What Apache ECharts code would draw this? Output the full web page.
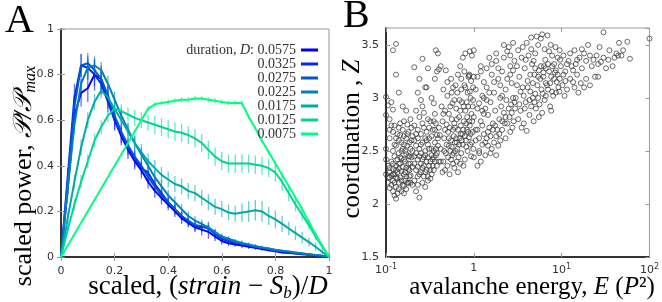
<!DOCTYPE html>
<html>
<head>
<meta charset="utf-8">
<script src="https://cdn.jsdelivr.net/npm/echarts@6/dist/echarts.min.js"></script>
<style>
  html, body { margin: 0; padding: 0; background: #fff; }
  #chart { width: 662px; height: 302px; }
</style>
</head>
<body>
<div id="chart"></div>
<script>
// panel A: scaled power profiles
const durations = ['0.0575', '0.0325', '0.0275', '0.0225', '0.0175', '0.0125', '0.0075']
const colors = ['#0000ff', '#002aea', '#0055d5', '#0080bf', '#00aaaa', '#00d495', '#00ff80']
const xs = [0, 0.025, 0.05, 0.075, 0.1, 0.125, 0.15, 0.175, 0.2, 0.225, 0.25, 0.275, 0.3, 0.325, 0.35, 0.375, 0.4, 0.425, 0.45, 0.475, 0.5, 0.525, 0.55, 0.575, 0.6, 0.625, 0.65, 0.675, 0.7, 0.725, 0.75, 0.775, 0.8, 0.825, 0.85, 0.875, 0.9, 0.925, 0.95, 0.975, 1]

const p0575 = [0, 0.30, 0.62, 0.72, 0.74, 0.80, 0.78, 0.70, 0.60, 0.53, 0.47, 0.42, 0.38, 0.33, 0.29, 0.26, 0.23, 0.20, 0.17, 0.15, 0.13, 0.12, 0.11, 0.09, 0.07, 0.06, 0.055, 0.05, 0.045, 0.04, 0.035, 0.03, 0.025, 0.02, 0.018, 0.015, 0.012, 0.01, 0.007, 0.004, 0]
const p0325 = [0, 0.35, 0.70, 0.84, 0.83, 0.80, 0.76, 0.68, 0.60, 0.54, 0.48, 0.43, 0.39, 0.37, 0.32, 0.28, 0.24, 0.21, 0.18, 0.155, 0.135, 0.13, 0.13, 0.10, 0.08, 0.07, 0.06, 0.055, 0.05, 0.045, 0.04, 0.035, 0.03, 0.025, 0.02, 0.017, 0.014, 0.011, 0.008, 0.004, 0]
const p0275 = [0, 0.33, 0.66, 0.84, 0.85, 0.82, 0.78, 0.71, 0.62, 0.55, 0.49, 0.44, 0.40, 0.35, 0.31, 0.27, 0.24, 0.21, 0.18, 0.16, 0.14, 0.135, 0.125, 0.10, 0.085, 0.075, 0.065, 0.058, 0.052, 0.046, 0.04, 0.035, 0.03, 0.026, 0.022, 0.018, 0.014, 0.011, 0.008, 0.004, 0]
const p0225 = [0, 0.30, 0.58, 0.76, 0.83, 0.84, 0.82, 0.76, 0.69, 0.62, 0.56, 0.50, 0.45, 0.40, 0.35, 0.31, 0.27, 0.24, 0.21, 0.18, 0.16, 0.145, 0.13, 0.11, 0.09, 0.08, 0.07, 0.062, 0.055, 0.048, 0.042, 0.037, 0.032, 0.028, 0.024, 0.02, 0.016, 0.012, 0.009, 0.005, 0]
const p0175 = [0, 0.17, 0.33, 0.48, 0.60, 0.68, 0.73, 0.70, 0.65, 0.60, 0.55, 0.50, 0.46, 0.42, 0.39, 0.36, 0.34, 0.32, 0.31, 0.29, 0.28, 0.26, 0.24, 0.22, 0.21, 0.195, 0.19, 0.195, 0.20, 0.205, 0.20, 0.18, 0.165, 0.145, 0.125, 0.105, 0.085, 0.065, 0.045, 0.022, 0]
const p0125 = [0, 0.12, 0.23, 0.33, 0.42, 0.51, 0.57, 0.62, 0.65, 0.64, 0.625, 0.61, 0.60, 0.59, 0.58, 0.57, 0.56, 0.55, 0.545, 0.535, 0.52, 0.50, 0.47, 0.44, 0.42, 0.41, 0.41, 0.41, 0.41, 0.405, 0.40, 0.39, 0.37, 0.33, 0.28, 0.23, 0.185, 0.14, 0.09, 0.045, 0]
const p0075 = [0, 0.05, 0.10, 0.15, 0.20, 0.25, 0.30, 0.35, 0.40, 0.45, 0.50, 0.55, 0.60, 0.65, 0.67, 0.675, 0.68, 0.685, 0.69, 0.69, 0.695, 0.695, 0.69, 0.685, 0.68, 0.675, 0.675, 0.675, 0.615, 0.565, 0.51, 0.46, 0.41, 0.36, 0.31, 0.26, 0.21, 0.155, 0.10, 0.05, 0]

const e0575 = [0, 0.03, 0.05, 0.06, 0.06, 0.07, 0.06, 0.05, 0.045, 0.04, 0.04, 0.035, 0.035, 0.03, 0.03, 0.03, 0.025, 0.025, 0.025, 0.02, 0.02, 0.025, 0.03, 0.02, 0.015, 0.012, 0.01, 0.01, 0.01, 0.008, 0.008, 0.006, 0.006, 0.005, 0.005, 0.004, 0.004, 0.003, 0.003, 0.002, 0]
const e0325 = [0, 0.04, 0.06, 0.05, 0.05, 0.05, 0.05, 0.045, 0.04, 0.04, 0.035, 0.035, 0.03, 0.03, 0.03, 0.025, 0.025, 0.025, 0.02, 0.02, 0.02, 0.02, 0.025, 0.02, 0.015, 0.012, 0.01, 0.01, 0.009, 0.008, 0.007, 0.006, 0.005, 0.005, 0.004, 0.004, 0.003, 0.003, 0.002, 0.002, 0]
const e0275 = [0, 0.04, 0.05, 0.05, 0.045, 0.045, 0.045, 0.04, 0.04, 0.035, 0.035, 0.03, 0.03, 0.03, 0.028, 0.025, 0.025, 0.022, 0.02, 0.02, 0.02, 0.018, 0.018, 0.015, 0.013, 0.012, 0.01, 0.01, 0.009, 0.008, 0.007, 0.006, 0.005, 0.005, 0.004, 0.004, 0.003, 0.003, 0.002, 0.002, 0]
const e0225 = [0, 0.03, 0.04, 0.04, 0.04, 0.04, 0.035, 0.035, 0.035, 0.035, 0.03, 0.03, 0.03, 0.03, 0.03, 0.028, 0.025, 0.025, 0.022, 0.02, 0.02, 0.018, 0.016, 0.015, 0.013, 0.012, 0.01, 0.01, 0.009, 0.008, 0.007, 0.006, 0.005, 0.005, 0.004, 0.004, 0.003, 0.003, 0.002, 0.002, 0]
const e0175 = [0, 0.025, 0.03, 0.035, 0.035, 0.035, 0.035, 0.035, 0.035, 0.035, 0.035, 0.035, 0.035, 0.035, 0.035, 0.035, 0.035, 0.035, 0.035, 0.035, 0.035, 0.035, 0.035, 0.035, 0.035, 0.035, 0.035, 0.04, 0.045, 0.045, 0.045, 0.04, 0.04, 0.035, 0.03, 0.03, 0.025, 0.02, 0.018, 0.012, 0]
const e0125 = [0, 0.02, 0.025, 0.03, 0.03, 0.03, 0.03, 0.03, 0.03, 0.03, 0.03, 0.035, 0.035, 0.035, 0.04, 0.04, 0.04, 0.04, 0.04, 0.04, 0.04, 0.04, 0.04, 0.04, 0.04, 0.04, 0.04, 0.04, 0.04, 0.04, 0.04, 0.04, 0.04, 0.04, 0.035, 0.03, 0.025, 0.02, 0.015, 0.01, 0]
const e0075 = [0, 0, 0, 0, 0, 0, 0, 0, 0, 0, 0, 0, 0, 0.012, 0.012, 0.012, 0.012, 0.012, 0.012, 0.012, 0.012, 0.012, 0.012, 0.012, 0.012, 0.012, 0.012, 0.012, 0.01, 0.01, 0.01, 0.01, 0.01, 0.01, 0.01, 0.01, 0.01, 0.01, 0.008, 0.006, 0]

const powers = [p0575, p0325, p0275, p0225, p0175, p0125, p0075]
const errors = [e0575, e0325, e0275, e0225, e0175, e0125, e0075]

// panel B: coordination vs avalanche energy [E, Z]
const avalanches = [
  [0.10,3.01],[0.105,2.93],[0.10,2.84],[0.11,2.80],[0.10,2.52],[0.10,2.42],[0.105,2.36],[0.10,2.28],[0.11,2.25],[0.105,2.20],
  [0.11,2.30],[0.115,2.27],[0.12,2.22],[0.12,2.33],[0.12,2.38],[0.125,2.45],[0.12,2.12],[0.125,2.08],[0.13,2.05],[0.135,2.10],
  [0.13,2.16],[0.13,2.25],[0.135,2.30],[0.13,2.36],[0.135,2.42],[0.14,2.48],[0.13,2.55],[0.14,2.60],[0.135,2.66],[0.14,2.72],
  [0.145,2.76],[0.14,2.20],[0.145,2.25],[0.15,2.31],[0.145,2.38],[0.15,2.43],[0.155,2.52],[0.15,2.58],[0.16,2.64],[0.155,2.70],
  [0.16,2.78],[0.15,2.12],[0.16,2.17],[0.165,2.22],[0.16,2.28],[0.17,2.34],[0.165,2.40],[0.17,2.47],[0.175,2.55],[0.17,2.62],
  [0.18,2.68],[0.175,2.75],[0.17,2.14],[0.18,2.20],[0.185,2.26],[0.18,2.33],[0.19,2.38],[0.185,2.45],[0.19,2.52],[0.195,2.60],
  [0.19,2.27],[0.20,2.35],[0.12,3.45],[0.13,3.51],[0.13,3.22],[0.115,2.96],[0.12,2.89],[0.14,3.05],[0.155,2.92],[0.17,2.88],
  [0.11,2.62],[0.12,2.68],[0.115,2.74],[0.16,2.10],[0.18,2.45],[0.20,2.18],[0.14,2.33],[0.125,2.28],[0.15,2.22],[0.165,2.50],
  [0.105,2.25],[0.11,2.34],[0.115,2.40],[0.12,2.50],[0.125,2.56],[0.13,2.62],[0.11,2.15],[0.115,2.18],[0.125,2.20],[0.13,2.32],
  [0.14,2.38],[0.145,2.44],[0.15,2.50],[0.155,2.35],[0.16,2.42],[0.165,2.30],[0.17,2.26],[0.175,2.20],[0.18,2.38],[0.185,2.32],
  [0.19,2.20],[0.195,2.44],[0.155,2.18],[0.14,2.14],[0.12,2.28],[0.135,2.24],[0.145,2.65],[0.16,2.56],[0.175,2.66],[0.185,2.58],
  [0.195,2.72],[0.11,2.70],[0.125,2.74],[0.19,2.80],[0.20,2.64],[0.20,2.50],
  [0.21,3.29],[0.26,3.37],[0.29,3.10],[0.37,3.45],[0.39,3.42],[0.40,3.27],[0.38,3.25],[0.23,3.05],[0.25,2.98],[0.28,3.10],
  [0.33,3.00],[0.35,2.95],[0.22,2.88],[0.24,2.82],[0.27,2.86],[0.30,2.80],[0.32,2.78],[0.36,2.85],[0.21,2.74],[0.23,2.70],
  [0.25,2.66],[0.27,2.72],[0.29,2.68],[0.31,2.62],[0.34,2.70],[0.38,2.65],[0.21,2.60],[0.22,2.55],[0.24,2.52],[0.26,2.58],
  [0.28,2.50],[0.30,2.56],[0.33,2.52],[0.36,2.58],[0.39,2.55],[0.21,2.45],[0.23,2.42],[0.25,2.38],[0.27,2.44],[0.29,2.40],
  [0.31,2.36],[0.34,2.42],[0.37,2.46],[0.22,2.32],[0.24,2.28],[0.26,2.34],[0.28,2.30],[0.30,2.26],[0.32,2.24],[0.35,2.32],
  [0.38,2.36],[0.21,2.22],[0.23,2.18],[0.24,2.06],[0.26,2.20],[0.28,2.16],[0.30,2.22],[0.22,2.12],[0.33,2.28],[0.40,2.40],
  [0.25,2.48],[0.35,2.50],[0.29,2.60],[0.23,2.62],[0.31,2.72],[0.37,2.76],[0.26,2.92],[0.36,3.18],[0.30,3.28],[0.24,3.18],
  [0.21,2.38],[0.22,2.48],[0.23,2.35],[0.24,2.45],[0.25,2.30],[0.26,2.42],[0.27,2.36],[0.28,2.46],[0.29,2.32],[0.30,2.44],
  [0.31,2.52],[0.32,2.40],[0.33,2.46],[0.34,2.36],[0.35,2.44],[0.36,2.40],[0.37,2.52],[0.38,2.48],[0.39,2.62],[0.22,2.66],
  [0.25,2.56],[0.28,2.62],[0.33,2.64],[0.36,2.70],[0.27,2.26],[0.23,2.26],[0.32,2.32],[0.35,2.78],[0.40,2.72],[0.26,2.76],
  [0.42,3.30],[0.48,3.26],[0.55,3.18],[0.62,3.12],[0.70,3.30],[0.75,3.38],[0.80,3.42],[0.90,3.44],[0.95,3.40],[0.88,3.21],
  [0.87,3.20],[0.89,3.22],[0.45,3.08],[0.50,3.02],[0.58,3.10],[0.65,3.05],[0.72,3.08],[0.78,3.12],[0.85,3.05],[0.92,3.00],
  [0.98,3.10],[0.43,2.92],[0.47,2.88],[0.52,2.85],[0.57,2.95],[0.63,2.90],[0.68,2.82],[0.73,2.96],[0.80,2.88],[0.86,2.92],
  [0.94,2.85],[0.44,2.78],[0.49,2.75],[0.53,2.72],[0.56,2.80],[0.60,2.76],[0.66,2.70],[0.71,2.74],[0.77,2.78],[0.83,2.70],
  [0.90,2.74],[0.97,2.68],[0.41,2.65],[0.46,2.62],[0.51,2.68],[0.55,2.60],[0.59,2.64],[0.64,2.58],[0.69,2.62],[0.75,2.56],
  [0.81,2.60],[0.88,2.63],[0.95,2.58],[0.42,2.52],[0.48,2.48],[0.52,2.55],[0.57,2.46],[0.62,2.50],[0.67,2.44],[0.72,2.48],
  [0.79,2.42],[0.85,2.50],[0.93,2.45],[0.45,2.40],[0.50,2.36],[0.55,2.42],[0.60,2.34],[0.66,2.30],[0.70,2.38],[0.76,2.36],
  [0.47,2.32],[0.53,2.28],[0.58,2.38],[0.64,2.40],[0.44,2.30],[0.82,2.54],[0.91,2.56],[0.99,2.52],[0.61,2.72],[0.74,2.66],
  [0.54,2.92],[0.69,2.98],[0.84,2.82],[0.96,2.78],[0.50,3.15],[0.66,3.22],[0.78,3.25],
  [0.42,2.40],[0.46,2.50],[0.49,2.56],[0.51,2.44],[0.54,2.50],[0.56,2.54],[0.59,2.48],[0.61,2.58],[0.63,2.62],[0.65,2.52],
  [0.68,2.56],[0.71,2.66],[0.73,2.60],[0.76,2.70],[0.79,2.64],[0.82,2.76],[0.86,2.68],[0.89,2.78],[0.92,2.66],[0.97,2.92],
  [0.47,2.70],[0.52,2.62],[0.58,2.70],[0.64,2.80],[0.70,2.88],[0.77,2.92],[0.83,2.96],[0.90,3.06],[0.98,2.98],[0.60,2.98],
  [0.45,2.85],[0.56,3.05],[0.72,3.18],[0.80,3.10],[0.93,3.16],
  [1.0,3.45],[1.2,3.30],[1.5,3.38],[1.8,3.42],[2.2,3.50],[2.5,3.48],[2.8,3.52],[2.4,3.44],[1.1,3.20],[1.3,3.15],
  [1.6,3.22],[1.9,3.28],[2.1,3.25],[2.6,3.30],[2.9,3.35],[1.05,3.08],[1.25,3.02],[1.4,3.10],[1.7,3.05],[2.0,3.12],
  [2.3,3.08],[2.7,3.14],[1.15,2.95],[1.35,2.90],[1.55,2.96],[1.75,2.88],[2.05,2.92],[2.35,2.98],[2.65,2.94],[2.95,2.90],
  [1.0,2.82],[1.2,2.78],[1.45,2.84],[1.65,2.76],[1.95,2.80],[2.25,2.76],[2.55,2.82],[2.85,2.78],[1.1,2.70],[1.3,2.66],
  [1.5,2.72],[1.8,2.64],[2.1,2.70],[2.4,2.76],[2.75,2.72],[1.05,2.60],[1.25,2.56],[1.4,2.62],[1.7,2.58],[2.0,2.60],
  [1.15,2.50],[1.35,2.46],[1.6,2.52],[1.8,2.46],[1.0,2.44],[1.2,2.40],[1.45,2.55],[2.3,2.62],[2.6,2.68],[1.9,2.55],
  [1.1,2.36],[2.0,3.00],[1.6,3.32],[1.3,2.85],[2.2,2.86],[2.8,3.00],[1.0,3.20],[1.4,2.98],
  [1.05,2.70],[1.15,2.62],[1.25,2.74],[1.35,2.58],[1.45,2.68],[1.55,2.64],[1.65,2.70],[1.75,2.74],[1.85,2.70],[1.95,2.66],
  [2.1,2.78],[2.3,2.82],[2.5,2.90],[2.7,2.86],[2.9,2.96],[1.1,2.90],[1.3,3.00],[1.5,3.05],[1.7,3.15],[1.9,3.18],
  [2.1,3.02],[2.4,3.18],[2.6,3.22],[2.8,3.26],[1.2,3.25],[1.4,3.28],[1.8,3.35],[2.2,3.38],[2.6,3.40],[1.15,2.48],
  [1.55,2.48],[1.25,2.88],
  [3.2,3.45],[4.0,3.52],[4.5,3.57],[5.2,3.58],[6.0,3.60],[6.9,3.59],[5.8,3.56],[7.5,3.50],[8.5,3.48],[9.5,3.45],
  [3.5,3.38],[4.2,3.40],[5.0,3.42],[6.5,3.36],[7.8,3.40],[9.0,3.38],[3.1,3.30],[3.8,3.28],[4.6,3.32],[5.5,3.26],
  [6.3,3.30],[7.2,3.25],[8.2,3.32],[9.8,3.30],[3.3,3.20],[4.1,3.16],[4.9,3.22],[5.7,3.18],[6.6,3.14],[7.6,3.20],
  [8.8,3.15],[3.6,3.10],[4.4,3.06],[5.3,3.12],[6.1,3.04],[7.0,3.08],[8.0,3.02],[9.2,3.10],[3.0,3.00],[3.9,2.96],
  [4.7,3.00],[5.6,2.94],[6.4,2.98],[7.4,2.92],[8.6,3.05],[3.4,2.88],[4.3,2.84],[5.1,2.90],[6.0,2.86],[7.6,2.88],
  [3.2,2.80],[3.7,2.76],[4.0,2.69],[4.8,2.78],[5.5,2.82],[3.5,2.72],[4.5,2.92],[6.8,3.12],[9.5,3.18],[8.4,3.24],
  [5.9,3.08],[4.8,3.35],[3.6,3.48],[7.2,3.44],[5.0,3.04],[6.2,3.20],
  [3.1,3.12],[3.4,3.06],[3.7,3.02],[4.1,3.10],[4.4,3.22],[4.7,3.14],[5.0,3.28],[5.4,3.20],[5.8,3.30],[6.2,3.24],
  [6.6,3.28],[7.0,3.32],[7.4,3.14],[7.8,3.06],[8.2,3.18],[8.6,3.26],[9.0,3.22],[9.4,3.06],[3.3,2.94],[3.8,2.90],
  [4.3,2.98],[4.9,2.96],[5.4,3.00],[6.6,3.02],[3.9,3.36],[4.5,3.46],[5.4,3.50],[6.4,3.46],[7.8,3.30],[9.6,3.36],
  [10.5,3.40],[12,3.35],[14,3.45],[16,3.38],[18,3.42],[20,3.50],[25,3.40],[30,3.62],[35,3.45],[45,3.52],
  [56,3.53],[100,3.56],[11,3.25],[13,3.30],[15,3.22],[17,3.28],[19,3.18],[22,3.30],[26,3.20],[28,3.34],
  [32,3.28],[40,3.38],[48,3.40],[60,3.37],[10.2,3.12],[11.5,3.08],[13.5,3.15],[15.5,3.05],[18,3.10],[21,3.12],
  [24,3.20],[12.5,3.18],[14.5,3.32],[38,3.30],[50,3.45],[27,3.48],[42,3.42],[10.8,3.02],[16.5,3.14],
  [10.5,3.22],[11.5,3.32],[12.5,3.42],[13.5,3.26],[15,3.36],[17,3.46],[19,3.35],[21,3.40],[23,3.36],[26,3.32],
  [30,3.38],[34,3.36],[44,3.40],[11,3.16],[14,3.10]
]

const sans = 'DejaVu Sans'
const serif = 'Liberation Serif'

let chart = echarts.init(document.getElementById('chart'))

let lineSeries = durations.map((d, k) => ({
    name: d,
    type: 'line',
    xAxisIndex: 0,
    yAxisIndex: 0,
    showSymbol: false,
    symbol: 'none',
    z: 3,
    lineStyle: { color: colors[k], width: 2 },
    itemStyle: { color: colors[k] },
    data: xs.map((x, i) => [x, powers[k][i]]),
}))

let barSeries = durations.map((d, k) => ({
    name: 'err ' + d,
    type: 'custom',
    xAxisIndex: 0,
    yAxisIndex: 0,
    z: 2,
    silent: true,
    data: xs.map((x, i) => [x, powers[k][i] - errors[k][i], powers[k][i] + errors[k][i]]),
    renderItem(params, api) {
        let a = api.coord([api.value(0), api.value(1)])
        let b = api.coord([api.value(0), api.value(2)])
        return {
            type: 'line',
            shape: { x1: a[0], y1: a[1], x2: b[0], y2: b[1] },
            style: { stroke: colors[k], lineWidth: 1.3, opacity: 0.6 },
        }
    },
}))

const axisLabel = { fontFamily: sans, fontSize: 11, color: '#333' }
const inTick = { show: true, inside: true, length: 4, lineStyle: { color: '#999' } }

function supLabel(v) {
    if (Math.abs(v - 1) < 1e-9) return '1'
    let p = Math.round(Math.log10(v))
    return '10{s|' + p + '}'
}

function bigText(size) {
    return {
        r: { fontFamily: serif, fontSize: size, fill: '#000', lineHeight: size + 3 },
        i: { fontFamily: serif, fontSize: size, fontStyle: 'italic', fill: '#000', lineHeight: size + 3 },
        s: { fontFamily: serif, fontSize: Math.round(size * 0.63), fontStyle: 'italic', fill: '#000', lineHeight: 16, verticalAlign: 'bottom' },
    }
}

chart.setOption({
    animation: false,
    grid: [
        { left: 61, right: 333, top: 29, bottom: 45, show: true, borderColor: '#999', borderWidth: 1 },
        { left: 386, right: 9, top: 28, bottom: 45, show: true, borderColor: '#999', borderWidth: 1 },
    ],
    legend: {
        data: durations,
        orient: 'vertical',
        align: 'right',
        right: 339,
        top: 38,
        itemGap: 0,
        itemWidth: 17,
        itemHeight: 3,
        icon: 'rect',
        selectedMode: false,
        textStyle: {
            fontFamily: serif, fontSize: 14, color: '#333', lineHeight: 11,
            rich: {
                n: { fontFamily: serif, fontSize: 14, color: '#333', lineHeight: 11 },
                i: { fontFamily: serif, fontSize: 14, fontStyle: 'italic', color: '#333', lineHeight: 11 },
            },
        },
        formatter: name => name === durations[0] ? '{n|duration, }{i|D}{n|: ' + name + '}' : name,
    },
    xAxis: [
        {
            type: 'value', gridIndex: 0, min: 0, max: 1, interval: 0.2,
            axisLine: { lineStyle: { color: '#000', width: 1.5 } },
            axisTick: inTick,
            splitLine: { show: false },
            axisLabel: { ...axisLabel, margin: 9, formatter: v => String(+v.toFixed(1)) },
        },
        {
            type: 'value', gridIndex: 0, min: 0, max: 1, interval: 0.2, position: 'top',
            axisLine: { show: false }, axisTick: inTick, axisLabel: { show: false }, splitLine: { show: false },
        },
        {
            type: 'log', gridIndex: 1, min: 0.1, max: 100, logBase: 10,
            axisLine: { lineStyle: { color: '#000', width: 1.5 } },
            axisTick: inTick,
            minorTick: { show: false },
            splitLine: { show: false },
            axisLabel: {
                ...axisLabel, margin: 6, formatter: supLabel,
                rich: { s: { fontFamily: sans, fontSize: 8, color: '#333', verticalAlign: 'top', padding: [0, 0, 6, 0] } },
            },
        },
        {
            type: 'log', gridIndex: 1, min: 0.1, max: 100, logBase: 10, position: 'top',
            axisLine: { show: false }, axisTick: inTick, axisLabel: { show: false }, splitLine: { show: false },
        },
    ],
    yAxis: [
        {
            type: 'value', gridIndex: 0, min: 0, max: 1, interval: 0.2,
            axisLine: { show: true, lineStyle: { color: '#000', width: 1.5 } },
            axisTick: inTick,
            splitLine: { show: false },
            axisLabel: { ...axisLabel, margin: 7, formatter: v => String(+v.toFixed(1)) },
        },
        {
            type: 'value', gridIndex: 0, min: 0, max: 1, interval: 0.2, position: 'right',
            axisLine: { show: false }, axisTick: inTick, axisLabel: { show: false }, splitLine: { show: false },
        },
        {
            type: 'value', gridIndex: 1, min: 1.5, max: 3.66, interval: 0.5,
            axisLine: { show: true, lineStyle: { color: '#000', width: 1.5 } },
            axisTick: inTick,
            splitLine: { show: false },
            axisLabel: { ...axisLabel, margin: 7, showMaxLabel: false },
        },
        {
            type: 'value', gridIndex: 1, min: 1.5, max: 3.66, interval: 0.5, position: 'right',
            axisLine: { show: false }, axisTick: inTick, axisLabel: { show: false }, splitLine: { show: false },
        },
    ],
    graphic: [
        { type: 'text', left: 5, top: 1, style: { text: 'A', font: '40px "Liberation Serif"', fill: '#000' } },
        { type: 'text', left: 343, top: -4, style: { text: 'B', font: '40px "Liberation Serif"', fill: '#000' } },
        {
            type: 'text', x: 208, y: 287,
            style: {
                text: '{r|scaled, (}{i|strain}{r| − }{i|S}{s|b}{r|)/}{i|D}',
                align: 'center', verticalAlign: 'middle', rich: bigText(27),
            },
        },
        {
            type: 'text', x: 24, y: 176, rotation: Math.PI / 2,
            style: {
                text: '{r|scaled power, }{i|𝒫/𝒫}{s|max}',
                align: 'center', verticalAlign: 'middle', rich: bigText(26),
            },
        },
        {
            type: 'text', x: 352, y: 139, rotation: Math.PI / 2,
            style: {
                text: '{r|coordination , }{i|Z}',
                align: 'center', verticalAlign: 'middle', rich: bigText(25),
            },
        },
        {
            type: 'text', x: 532, y: 287,
            style: {
                text: '{r|avalanche energy, }{i|E}{r| (}{i|P}{r|²)}',
                align: 'center', verticalAlign: 'middle', rich: bigText(25),
            },
        },
    ],
    series: [
        ...barSeries,
        ...lineSeries,
        {
            name: 'avalanches',
            type: 'scatter',
            xAxisIndex: 2,
            yAxisIndex: 2,
            symbol: 'circle',
            symbolSize: 5,
            itemStyle: { color: 'rgba(0,0,0,0)', borderColor: '#333', borderWidth: 0.9, opacity: 0.8 },
            data: avalanches,
        },
    ],
})
</script>
</body>
</html>
